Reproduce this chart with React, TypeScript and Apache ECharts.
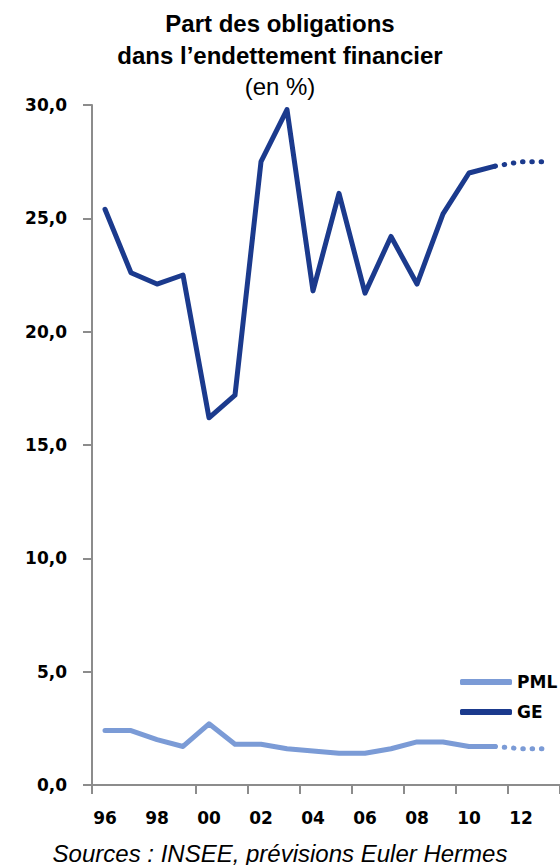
import React, { useEffect, useRef } from "react";
import * as echarts from "echarts";

const years = ["96", "97", "98", "99", "00", "01", "02", "03", "04", "05", "06", "07", "08", "09", "10", "11", "12", "13"];
const geValues = [25.4, 22.6, 22.1, 22.5, 16.2, 17.2, 27.5, 29.8, 21.8, 26.1, 21.7, 24.2, 22.1, 25.2, 27.0, 27.3, 27.5, 27.5];
const pmlValues = [2.4, 2.4, 2.0, 1.7, 2.7, 1.8, 1.8, 1.6, 1.5, 1.4, 1.4, 1.6, 1.9, 1.9, 1.7, 1.7, 1.6, 1.6];
const forecastStart = 15; // 2011: last observed year, dotted afterwards
const yTicks = [0, 5, 10, 15, 20, 25, 30];

const titleLines = ["Part des obligations", "dans l’endettement financier"];
const unitText = "(en %)";
const sourceText = "Sources : INSEE, prévisions Euler Hermes";

const GE_COLOR = "#1B3A8D";
const PML_COLOR = "#7B9BD6";
const AXIS_COLOR = "#8C8C8C";
const LABEL_FONT = "'DejaVu Sans', Verdana, sans-serif";
const TITLE_FONT = "'Liberation Sans', Arial, sans-serif";

const observed = (vals: number[]) => vals.map((v, i) => (i <= forecastStart ? v : "-"));
const forecast = (vals: number[]) => vals.map((v, i) => (i >= forecastStart ? v : "-"));

export default function App() {
  const ref = useRef<HTMLDivElement>(null);

  useEffect(() => {
    if (!ref.current) return;
    const chart = echarts.init(ref.current, undefined, { renderer: "svg" });
    const solid = { width: 5, cap: "round", join: "round" };
    const dotted = { width: 5, cap: "round", join: "round", type: [0.5, 8.8] };
    chart.setOption({
      animation: false,
      backgroundColor: "#fff",
      grid: { left: 92, width: 478, top: 105, bottom: 80, containLabel: false },
      xAxis: {
        type: "category",
        data: years,
        boundaryGap: true,
        axisLine: { lineStyle: { color: AXIS_COLOR, width: 2 } },
        axisTick: {
          show: true,
          length: 9,
          interval: (i: number) => i % 2 === 0 && i !== 2,
          lineStyle: { color: AXIS_COLOR, width: 2 },
        },
        axisLabel: {
          interval: 1,
          margin: 24,
          color: "#000",
          fontFamily: LABEL_FONT,
          fontWeight: "bold",
          fontSize: 17,
        },
        splitLine: { show: false },
      },
      yAxis: {
        type: "value",
        min: yTicks[0],
        max: yTicks[yTicks.length - 1],
        interval: 5,
        axisLine: { show: true, lineStyle: { color: AXIS_COLOR, width: 2 } },
        axisTick: { show: true, length: 9, lineStyle: { color: AXIS_COLOR, width: 2 } },
        axisLabel: {
          margin: 25,
          color: "#000",
          fontFamily: LABEL_FONT,
          fontWeight: "bold",
          fontSize: 17,
          formatter: (v: number) => v.toFixed(1).replace(".", ","),
        },
        splitLine: { show: false },
      },
      legend: {
        orient: "vertical",
        left: 455,
        top: 668,
        itemWidth: 52,
        itemHeight: 6,
        itemGap: 12,
        icon: "roundRect",
        data: ["PML", "GE"],
        textStyle: {
          color: "#000",
          fontFamily: LABEL_FONT,
          fontWeight: "bold",
          fontSize: 17,
          lineHeight: 18,
        },
      },
      series: [
        {
          name: "PML",
          type: "line",
          data: observed(pmlValues),
          color: PML_COLOR,
          showSymbol: false,
          lineStyle: { ...solid, color: PML_COLOR },
        },
        {
          name: "GE",
          type: "line",
          data: observed(geValues),
          color: GE_COLOR,
          showSymbol: false,
          lineStyle: { ...solid, color: GE_COLOR },
        },
        {
          name: "PML",
          type: "line",
          data: forecast(pmlValues),
          color: PML_COLOR,
          showSymbol: false,
          lineStyle: { ...dotted, color: PML_COLOR },
        },
        {
          name: "GE",
          type: "line",
          data: forecast(geValues),
          color: GE_COLOR,
          showSymbol: false,
          lineStyle: { ...dotted, color: GE_COLOR },
        },
      ],
      graphic: [
        {
          type: "text",
          x: 280,
          y: 23,
          style: {
            text: titleLines[0],
            fill: "#000",
            font: `bold 24px ${TITLE_FONT}`,
            textAlign: "center",
            textVerticalAlign: "middle",
          },
        },
        {
          type: "text",
          x: 280,
          y: 55,
          style: {
            text: titleLines[1],
            fill: "#000",
            font: `bold 24px ${TITLE_FONT}`,
            textAlign: "center",
            textVerticalAlign: "middle",
          },
        },
        {
          type: "text",
          x: 280,
          y: 86,
          style: {
            text: unitText,
            fill: "#000",
            font: `24px ${TITLE_FONT}`,
            textAlign: "center",
            textVerticalAlign: "middle",
          },
        },
        {
          type: "text",
          x: 280,
          y: 853,
          style: {
            text: sourceText,
            fill: "#000",
            font: `italic 24px ${TITLE_FONT}`,
            textAlign: "center",
            textVerticalAlign: "middle",
          },
        },
      ],
    });
    return () => chart.dispose();
  }, []);

  return (
    <div
      ref={ref}
      style={{ position: "fixed", left: 0, top: 0, width: 560, height: 865, background: "#fff" }}
    />
  );
}
